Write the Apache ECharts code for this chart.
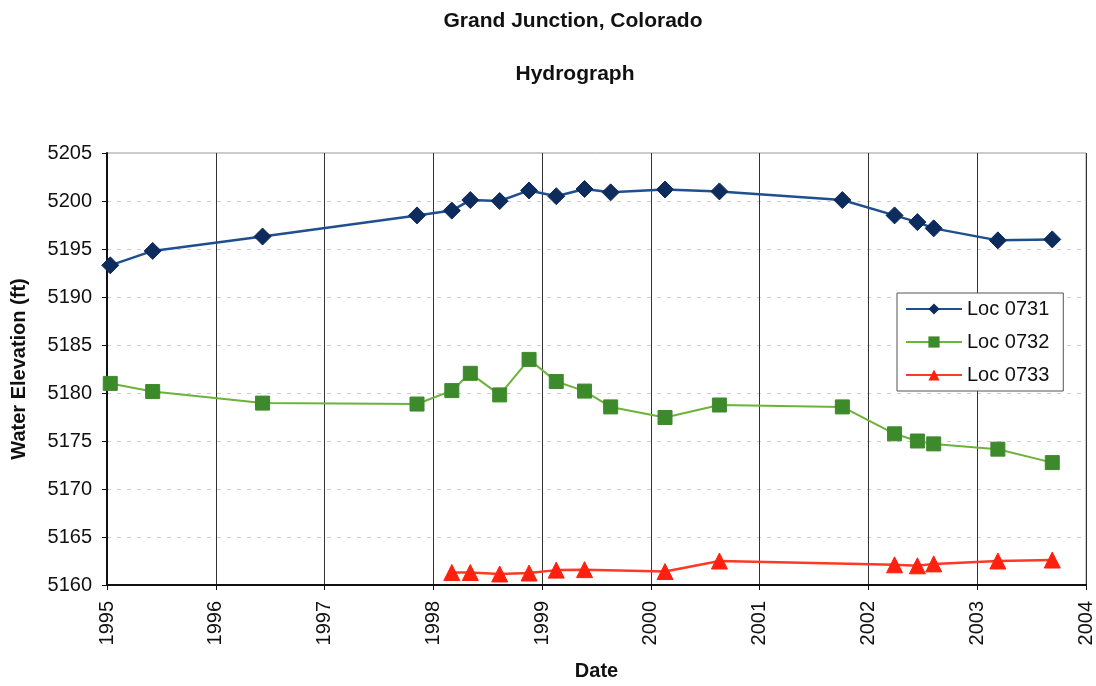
<!DOCTYPE html>
<html>
<head>
<meta charset="utf-8">
<script src="https://cdn.jsdelivr.net/npm/echarts@6/dist/echarts.min.js"></script>
<style>
html,body{margin:0;padding:0;background:#fff;}
#chart{width:1096px;height:686px;}
</style>
</head>
<body>
<div id="chart"></div>
<script>
const xTicks = [1995, 1996, 1997, 1998, 1999, 2000, 2001, 2002, 2003, 2004];
const yTicks = [5160, 5165, 5170, 5175, 5180, 5185, 5190, 5195, 5200, 5205];

const dates0731 = [1995.03, 1995.42, 1996.43, 1997.85, 1998.17, 1998.34, 1998.61, 1998.88, 1999.13, 1999.39, 1999.63, 2000.13, 2000.63, 2001.76, 2002.24, 2002.45, 2002.60, 2003.19, 2003.69];
const loc0731 = [5193.3, 5194.8, 5196.3, 5198.5, 5199.0, 5200.1, 5200.0, 5201.1, 5200.5, 5201.25, 5200.9, 5201.2, 5201.0, 5200.1, 5198.5, 5197.8, 5197.15, 5195.9, 5196.0];

const dates0732 = [1995.03, 1995.42, 1996.43, 1997.85, 1998.17, 1998.34, 1998.61, 1998.88, 1999.13, 1999.39, 1999.63, 2000.13, 2000.63, 2001.76, 2002.24, 2002.45, 2002.60, 2003.19, 2003.69];
const loc0732 = [5181.0, 5180.15, 5178.95, 5178.85, 5180.25, 5182.05, 5179.8, 5183.5, 5181.2, 5180.2, 5178.55, 5177.45, 5178.75, 5178.55, 5175.75, 5175.0, 5174.7, 5174.15, 5172.75];

const dates0733 = [1998.17, 1998.34, 1998.61, 1998.88, 1999.13, 1999.39, 2000.13, 2000.63, 2002.24, 2002.45, 2002.60, 2003.19, 2003.69];
const loc0733 = [5161.3, 5161.3, 5161.15, 5161.25, 5161.55, 5161.6, 5161.4, 5162.5, 5162.1, 5162.0, 5162.2, 5162.5, 5162.6];

const seriesNames = ['Loc 0731', 'Loc 0732', 'Loc 0733'];

function pairs(xs, ys) { return xs.map((x, i) => [x, ys[i]]); }

const FONT = '"Liberation Sans", Arial, sans-serif';
const chart = echarts.init(document.getElementById('chart'));
chart.setOption({
  backgroundColor: '#ffffff',
  animation: false,
  textStyle: { fontFamily: FONT },
  title: [
    { text: 'Grand Junction, Colorado', left: 568, top: 6, textAlign: 'center',
      textStyle: { fontSize: 21, fontWeight: 'bold', color: '#111', fontFamily: FONT } },
    { text: 'Hydrograph', left: 570, top: 59, textAlign: 'center',
      textStyle: { fontSize: 21, fontWeight: 'bold', color: '#111', fontFamily: FONT } }
  ],
  grid: { left: 107, top: 153, right: 8, bottom: 101, show: true, borderColor: '#999', borderWidth: 1, backgroundColor: 'transparent' },
  legend: {
    data: seriesNames,
    orient: 'vertical',
    left: 897, top: 293,
    itemWidth: 56, itemHeight: 14, itemGap: 13,
    padding: [6, 14, 6, 8],
    backgroundColor: '#fff',
    borderColor: '#555', borderWidth: 1,
    textStyle: { fontSize: 20, color: '#111', fontFamily: FONT }
  },
  xAxis: {
    type: 'value', min: xTicks[0], max: xTicks[xTicks.length - 1], interval: 1,
    name: 'Date', nameLocation: 'middle', nameGap: 76,
    nameTextStyle: { fontSize: 20, fontWeight: 'bold', color: '#111', fontFamily: FONT },
    axisLine: { show: true, onZero: false, lineStyle: { color: '#111', width: 2 } },
    axisTick: { show: true, length: 5, lineStyle: { color: '#111' } },
    axisLabel: { rotate: 90, fontSize: 20, color: '#111', margin: 16, fontFamily: FONT,
      formatter: v => String(Math.round(v)) },
    splitLine: { show: true, lineStyle: { color: '#333', width: 1 } }
  },
  yAxis: {
    type: 'value', min: yTicks[0], max: yTicks[yTicks.length - 1], interval: 5,
    name: 'Water Elevation (ft)', nameLocation: 'middle', nameGap: 78,
    nameTextStyle: { fontSize: 20, fontWeight: 'bold', color: '#111', fontFamily: FONT },
    axisLine: { show: true, lineStyle: { color: '#111', width: 2 } },
    axisTick: { show: true, length: 5, lineStyle: { color: '#111' } },
    axisLabel: { fontSize: 20, color: '#111', margin: 15, fontFamily: FONT,
      formatter: v => String(Math.round(v)) },
    splitLine: { show: true, lineStyle: { color: '#ccc', width: 1, type: [4, 6] } }
  },
  series: [
    { name: seriesNames[0], type: 'line', data: pairs(dates0731, loc0731),
      symbol: 'diamond', symbolSize: 17,
      lineStyle: { color: '#1f4f8f', width: 2.5 },
      itemStyle: { color: '#0d2b5c', borderColor: '#0d2b5c' } },
    { name: seriesNames[1], type: 'line', data: pairs(dates0732, loc0732),
      symbol: 'rect', symbolSize: 14,
      lineStyle: { color: '#6bb33a', width: 2 },
      itemStyle: { color: '#3d8a2c', borderColor: '#3d8a2c' } },
    { name: seriesNames[2], type: 'line', data: pairs(dates0733, loc0733),
      symbol: 'triangle', symbolSize: 16,
      lineStyle: { color: '#ff3a24', width: 2.5 },
      itemStyle: { color: '#ff2010', borderColor: '#ff2010' } }
  ]
});
</script>
</body>
</html>
